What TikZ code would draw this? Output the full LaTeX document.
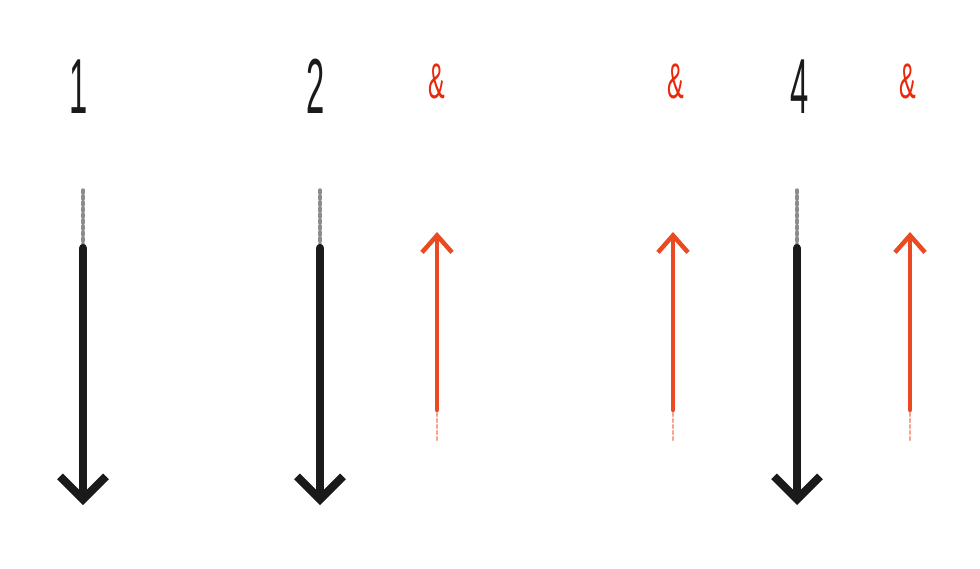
\documentclass[tikz,border=0pt]{standalone}
\usepackage{fontspec}
\setmainfont{Liberation Sans}
\usetikzlibrary{arrows.meta}
\definecolor{k}{RGB}{26, 26, 26}
\definecolor{rd}{RGB}{234, 40, 12}
\definecolor{ra}{RGB}{234, 74, 34}

\begin{document}
\begin{tikzpicture}[x=1pt, y=-1pt,
    num/.style={k, inner sep=0pt, anchor=base, xscale=.42, font=\fontsize{78}{78}\selectfont},
    amp/.style={rd, inner sep=0pt, anchor=base, xscale=.5, font=\fontsize{50}{50}\selectfont},
    down/.style={k, line width=8pt, line cap=round, -{Straight Barb[length=23pt, width=46pt]}},
    up/.style={ra, line width=4.5pt, line cap=round, -{Straight Barb[length=17pt, width=30pt]}},
    fade/.style={line cap=round, opacity=.5, dash pattern=on 3pt off 3pt}]
  \fill[white] (0,0) rectangle (980,568);
  \useasboundingbox (0,0) rectangle (980,568);

  \node[num] (one)  at (79, 113)  {1};
  \node[num] (two)  at (316, 113) {2};
  \node[num] (four) at (800, 113) {4};
  \node[amp] (and1) at (437, 98)  {\&};
  \node[amp] (and2) at (676, 98)  {\&};
  \node[amp] (and3) at (908, 98)  {\&};

  % black arrows
  \foreach \n/\x in {a/83, b/320, c/797} {
    \coordinate (\n f) at (\x, 190);
    \coordinate (\n s) at (\x, 248);
    \coordinate (\n t) at (\x, 505);
    \draw[k, fade, line width=3.5pt] (\n f) -- (\n s);
    \draw[down] (\n s) -- (\n t);
  }

  % red arrows
  \foreach \n/\x in {p/437, q/673, r/910} {
    \coordinate (\n f) at (\x, 440);
    \coordinate (\n s) at (\x, 410);
    \coordinate (\n t) at (\x, 232);
    \draw[ra, fade, line width=2.5pt] (\n f) -- (\n s);
    \draw[up] (\n s) -- (\n t);
  }
\end{tikzpicture}
\end{document}
